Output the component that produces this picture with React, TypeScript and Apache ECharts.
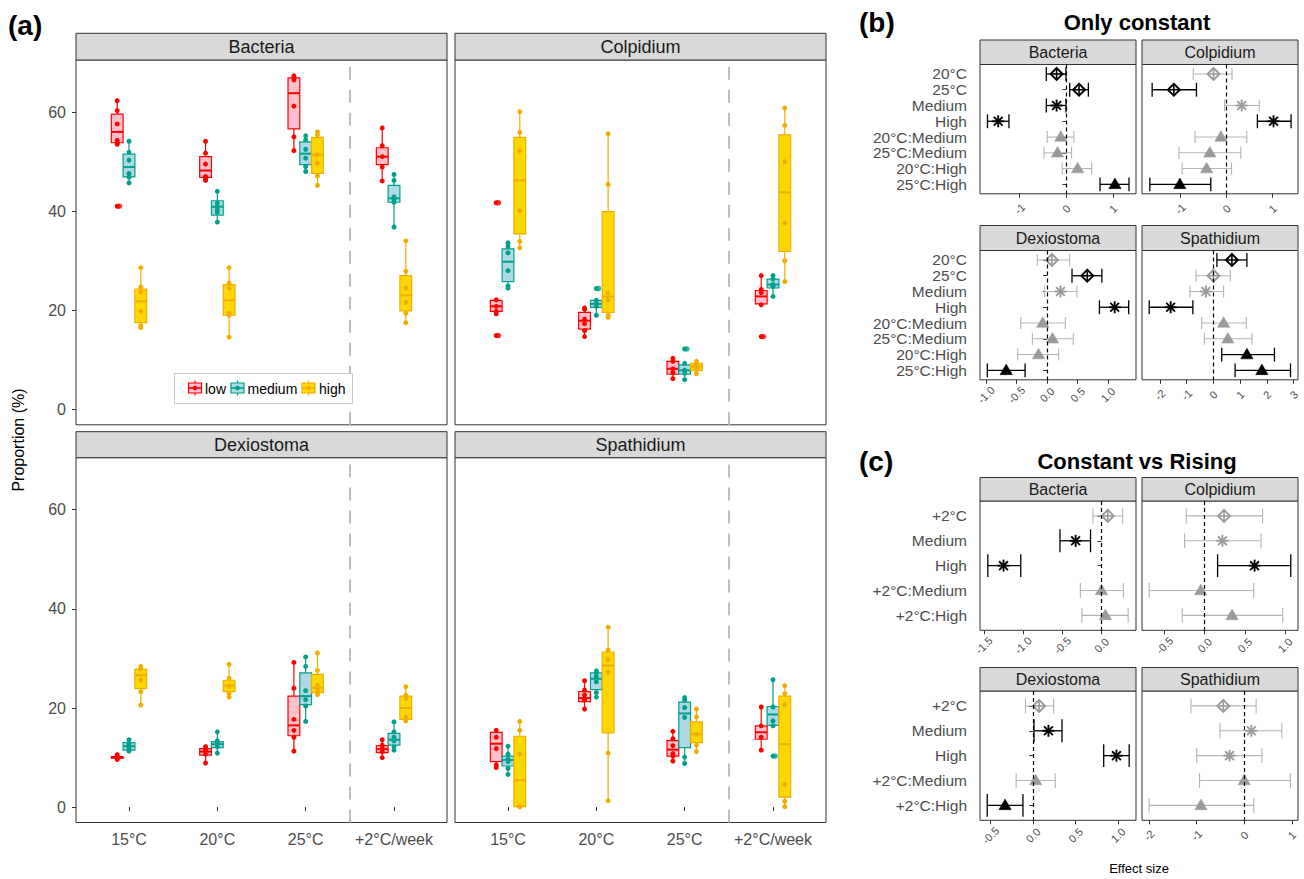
import React, { useEffect, useRef } from 'react';
import * as echarts from 'echarts';

// ---------- Panel (a) data ----------
const temps = ['15°C', '20°C', '25°C', '+2°C/week'];
const levels = ['low', 'medium', 'high'];
const species = ['Bacteria', 'Colpidium', 'Dexiostoma', 'Spathidium'];
const yTicksA = [0, 20, 40, 60];

// box stats [min, q1, median, q3, max]; outer index = level, inner = temperature
const bacteriaBoxes = [
  [[53.5, 53.8, 56.0, 59.6, 62.3], [46.2, 46.8, 48.2, 51.0, 54.1], [52.2, 56.6, 63.8, 66.9, 67.3], [46.1, 49.4, 51.0, 52.8, 56.8]],
  [[45.7, 46.9, 48.9, 51.5, 54.1], [37.8, 39.2, 40.9, 42.1, 44.0], [48.0, 49.4, 51.6, 54.0, 55.2], [36.8, 41.8, 42.6, 45.2, 47.4]],
  [[16.6, 17.5, 21.8, 24.3, 28.6], [14.6, 19.0, 22.0, 25.2, 28.6], [45.2, 47.6, 51.4, 54.9, 56.0], [17.5, 19.9, 23.0, 27.0, 34.0]],
];
const bacteriaPoints = [
  [[62.3, 60.3, 57.6, 54.3, 53.8, 53.5, 41.0], [54.1, 51.7, 49.5, 47.0, 46.5, 46.2], [67.3, 67.0, 66.5, 61.2, 55.0, 52.2], [56.8, 53.2, 51.0, 48.9, 46.1]],
  [[54.1, 51.9, 50.3, 47.6, 46.9, 45.7], [44.0, 41.6, 40.9, 40.3, 39.8, 37.8], [55.2, 54.4, 52.5, 50.7, 49.0, 48.0], [47.4, 46.2, 42.9, 42.4, 41.8, 36.8]],
  [[28.6, 24.7, 23.7, 19.8, 16.9, 16.5], [28.6, 25.5, 24.5, 19.4, 19.0, 14.6], [56.0, 55.4, 51.4, 49.7, 47.1, 45.2], [34.0, 27.9, 24.5, 21.6, 19.4, 17.5]],
];
const bacteriaOutliers = [[0, 0, 41.0]]; // [level, temperature, value]

const colpidiumBoxes = [
  [[19.3, 19.8, 20.8, 22.0, 22.1], [14.7, 16.2, 17.9, 19.6, 20.5], [6.2, 7.1, 8.2, 9.7, 10.3], [21.0, 21.3, 22.8, 24.0, 27.0]],
  [[24.5, 25.8, 29.8, 32.4, 33.6], [19.0, 20.6, 21.3, 22.0, 22.0], [6.0, 7.1, 7.9, 9.0, 9.3], [22.8, 24.5, 25.2, 26.3, 27.0]],
  [[32.6, 35.4, 46.2, 54.9, 60.1], [18.6, 19.6, 22.8, 39.9, 55.6], [7.2, 7.9, 8.7, 9.3, 9.7], [25.8, 31.9, 43.8, 55.4, 60.8]],
];
const colpidiumPoints = [
  [[41.7, 22.1, 20.8, 19.8, 19.3, 14.9], [20.5, 20.2, 18.2, 17.3, 15.9, 14.7], [10.3, 9.7, 8.2, 7.4, 6.2], [27.0, 24.2, 23.6, 21.1, 14.7]],
  [[33.6, 32.9, 31.6, 28.0, 24.9, 24.5], [24.4, 22.0, 21.3, 20.8, 19.0], [12.2, 9.3, 7.9, 7.3, 6.0], [27.0, 26.3, 25.2, 24.8, 22.8]],
  [[60.1, 55.9, 52.2, 40.1, 33.9, 32.6], [55.6, 45.4, 23.5, 22.1, 19.0, 18.6], [9.7, 9.1, 8.6, 8.0, 7.2], [60.8, 57.3, 50.0, 37.6, 30.0, 25.8]],
];
const colpidiumOutliers = [[0, 0, 41.7], [0, 0, 14.9], [1, 1, 24.4], [1, 2, 12.2], [0, 3, 14.7]];

const dexiostomaBoxes = [
  [[9.6, 9.9, 10.0, 10.2, 10.6], [8.9, 10.5, 11.2, 11.8, 12.2], [11.3, 14.4, 16.5, 22.4, 29.2], [10.0, 11.0, 11.7, 12.4, 13.6]],
  [[11.3, 11.5, 12.3, 13.0, 13.6], [10.9, 12.0, 12.7, 13.2, 15.2], [17.3, 20.7, 22.4, 27.1, 30.3], [11.5, 12.5, 13.6, 14.9, 17.2]],
  [[20.6, 23.9, 26.6, 27.8, 28.4], [22.2, 23.3, 24.5, 25.6, 28.8], [22.7, 23.1, 24.1, 26.8, 31.1], [17.2, 17.7, 20.0, 22.4, 24.3]],
];
const dexiostomaPoints = [
  [[10.6, 10.2, 10.0, 9.9, 9.6], [12.2, 11.5, 10.7, 8.9], [29.2, 24.0, 17.7, 15.5, 14.1, 11.3], [13.6, 12.5, 11.8, 11.2, 10.0]],
  [[13.6, 12.8, 12.3, 11.8, 11.3], [15.2, 13.4, 12.8, 12.2, 10.9], [30.3, 28.4, 23.5, 21.7, 20.4, 17.3], [17.2, 15.2, 14.1, 13.4, 12.2, 11.5]],
  [[28.4, 28.0, 25.6, 23.3, 20.6], [28.8, 26.0, 24.4, 22.9, 22.2], [31.1, 27.6, 24.6, 23.9, 23.2, 22.7], [24.3, 22.6, 21.9, 18.2, 17.4]],
];
const dexiostomaOutliers: number[][] = [];

const spathidiumBoxes = [
  [[8.0, 9.2, 12.8, 15.1, 15.5], [19.8, 21.3, 22.0, 23.3, 25.5], [9.3, 10.3, 11.6, 13.4, 15.3], [11.5, 13.7, 15.1, 16.4, 20.2]],
  [[6.6, 8.3, 9.5, 10.3, 12.3], [22.2, 23.7, 25.9, 27.1, 27.5], [8.8, 12.0, 18.9, 21.2, 22.1], [16.4, 16.5, 18.7, 20.3, 25.7]],
  [[0.1, 0.1, 5.4, 14.3, 17.3], [1.3, 15.0, 28.6, 31.3, 36.3], [11.2, 13.0, 14.7, 17.2, 19.8], [0.1, 2.0, 12.7, 22.4, 24.5]],
];
const spathidiumPoints = [
  [[15.5, 14.1, 11.8, 8.5, 8.0], [25.5, 23.6, 22.6, 21.6, 19.8], [15.3, 13.8, 12.4, 10.8, 10.3, 9.3], [20.2, 16.4, 14.1, 11.5]],
  [[12.3, 10.7, 9.7, 9.2, 7.8, 6.6], [27.5, 27.1, 26.3, 25.3, 23.1, 22.2], [22.1, 21.6, 20.1, 18.1, 10.1, 8.8], [25.7, 20.2, 17.4, 16.4, 10.3]],
  [[17.3, 15.5, 10.7, 0.1, 0.1], [36.3, 31.7, 29.8, 27.2, 10.9, 1.3], [19.8, 18.2, 14.7, 12.5, 11.2], [24.5, 22.9, 20.7, 4.6, 1.2, 0.1]],
];
const spathidiumOutliers = [[1, 3, 10.3]];

// ---------- Panels (b) and (c) data: [estimate, lower, upper, significant] ----------
const constRows = ['20°C', '25°C', 'Medium', 'High', '20°C:Medium', '25°C:Medium', '20°C:High', '25°C:High'];
const constShapes = [0, 0, 1, 1, 2, 2, 2, 2];
const constBacteria = [[-0.21, -0.43, -0.01, 1], [0.27, 0.07, 0.47, 1], [-0.21, -0.43, -0.01, 1], [-1.46, -1.69, -1.23, 1], [-0.12, -0.41, 0.16, 0], [-0.19, -0.48, 0.11, 0], [0.24, -0.09, 0.54, 0], [1.04, 0.72, 1.34, 1]];
const constColpidium = [[-0.28, -0.72, 0.12, 0], [-1.14, -1.61, -0.65, 1], [0.33, -0.04, 0.71, 0], [1.02, 0.67, 1.40, 1], [-0.12, -0.68, 0.44, 0], [-0.36, -1.03, 0.31, 0], [-0.43, -0.96, 0.11, 0], [-1.01, -1.66, -0.34, 1]];
const constDexiostoma = [[0.08, -0.16, 0.37, 0], [0.66, 0.41, 0.90, 1], [0.22, -0.04, 0.49, 0], [1.11, 0.86, 1.34, 1], [-0.07, -0.43, 0.30, 0], [0.09, -0.24, 0.43, 0], [-0.14, -0.48, 0.19, 0], [-0.67, -0.98, -0.36, 1]];
const constSpathidium = [[0.69, 0.13, 1.25, 1], [0.0, -0.65, 0.63, 0], [-0.28, -0.88, 0.38, 0], [-1.6, -2.4, -0.77, 1], [0.38, -0.44, 1.23, 0], [0.54, -0.34, 1.44, 0], [1.25, 0.31, 2.28, 1], [1.81, 0.81, 2.88, 1]];

const risingRows = ['+2°C', 'Medium', 'High', '+2°C:Medium', '+2°C:High'];
const risingShapes = [0, 1, 1, 2, 2];
const risingBacteria = [[0.08, -0.11, 0.27, 0], [-0.33, -0.53, -0.14, 1], [-1.25, -1.45, -1.03, 1], [0.0, -0.27, 0.28, 0], [0.05, -0.25, 0.34, 0]];
const risingColpidium = [[0.24, -0.23, 0.72, 0], [0.22, -0.25, 0.70, 0], [0.62, 0.16, 1.07, 1], [-0.05, -0.69, 0.61, 0], [0.34, -0.28, 0.97, 0]];
const risingDexiostoma = [[0.07, -0.09, 0.24, 0], [0.18, 0.01, 0.34, 1], [0.98, 0.83, 1.13, 1], [0.03, -0.20, 0.26, 0], [-0.33, -0.54, -0.12, 1]];
const risingSpathidium = [[-0.44, -1.12, 0.25, 0], [0.15, -0.51, 0.79, 0], [-0.31, -1.0, 0.37, 0], [0.0, -0.94, 0.97, 0], [-0.91, -2.0, 0.2, 0]];

// effect-size axis ranges and tick labels per facet (b: B,C,D,S then c: B,C,D,S)
const forestRanges = [[-1.85, 1.49], [-1.83, 1.55], [-1.1, 1.46], [-2.67, 3.16], [-1.55, 0.44], [-0.78, 1.16], [-0.625, 1.21], [-2.15, 1.13]];
const forestTicks = [[-1, 0, 1], [-1, 0, 1], [-1, -0.5, 0, 0.5, 1], [-2, -1, 0, 1, 2, 3], [-1.5, -1, -0.5, 0], [-0.5, 0, 0.5, 1], [-0.5, 0, 0.5, 1], [-2, -1, 0, 1]];
const forestDecimals = [0, 0, 1, 0, 1, 1, 1, 0];

// ---------- styling ----------
const FONT = '"Liberation Sans", Arial, Helvetica, sans-serif';
const lineCols = ['#FF0000', '#00A08A', '#F2AD00'];
const fillCols = ['#FFC0CB', '#ADD8E6', '#FFD700'];
const BOX_W = 0.4 / 3;
const OFFS = [-0.4 / 3, 0, 0.4 / 3];

function boxRender(l: number) {
  return (params: any, api: any) => {
    const x = api.value(0);
    const pMin = api.coord([x, api.value(1)]);
    const pQ1 = api.coord([x, api.value(2)]);
    const pMd = api.coord([x, api.value(3)]);
    const pQ3 = api.coord([x, api.value(4)]);
    const pMax = api.coord([x, api.value(5)]);
    const half = Math.abs(api.size([BOX_W, 0])[0]) / 2;
    const cx = pMd[0];
    const col = lineCols[l];
    return {
      type: 'group',
      children: [
        { type: 'line', shape: { x1: cx, y1: pMax[1], x2: cx, y2: pQ3[1] }, style: { stroke: col, lineWidth: 1.2 } },
        { type: 'line', shape: { x1: cx, y1: pQ1[1], x2: cx, y2: pMin[1] }, style: { stroke: col, lineWidth: 1.2 } },
        { type: 'rect', shape: { x: cx - half, y: pQ3[1], width: 2 * half, height: Math.max(pQ1[1] - pQ3[1], 0.5) }, style: { fill: fillCols[l], stroke: col, lineWidth: 1.2 } },
        { type: 'line', shape: { x1: cx - half, y1: pMd[1], x2: cx + half, y2: pMd[1] }, style: { stroke: col, lineWidth: 2 } },
      ],
    };
  };
}

function forestRender(capSig: number, capNs: number) {
  return (params: any, api: any) => {
    const est = api.value(0);
    const row = api.value(1);
    const lo = api.value(2);
    const hi = api.value(3);
    const sig = api.value(4);
    const shape = api.value(5);
    const c = api.coord([est, row]);
    const pl = api.coord([lo, row]);
    const ph = api.coord([hi, row]);
    const unitH = Math.abs(api.size([0, 1])[1]);
    const cap = unitH * (sig ? capSig : capNs);
    const barCol = sig ? '#000000' : '#B5B5B5';
    const mk = sig ? '#000000' : '#9A9A9A';
    const x = c[0];
    const y = c[1];
    const lw = sig ? 1.3 : 1.1;
    const children: any[] = [
      { type: 'line', shape: { x1: pl[0], y1: y, x2: ph[0], y2: y }, style: { stroke: barCol, lineWidth: lw } },
      { type: 'line', shape: { x1: pl[0], y1: y - cap, x2: pl[0], y2: y + cap }, style: { stroke: barCol, lineWidth: lw } },
      { type: 'line', shape: { x1: ph[0], y1: y - cap, x2: ph[0], y2: y + cap }, style: { stroke: barCol, lineWidth: lw } },
    ];
    const s = 6;
    if (shape === 0) {
      children.push({ type: 'polygon', shape: { points: [[x, y - s], [x + s, y], [x, y + s], [x - s, y]] }, style: { fill: '#ffffff', stroke: mk, lineWidth: 1.9 } });
      children.push({ type: 'line', shape: { x1: x, y1: y - s, x2: x, y2: y + s }, style: { stroke: mk, lineWidth: 1.6 } });
      children.push({ type: 'line', shape: { x1: x - s, y1: y, x2: x + s, y2: y }, style: { stroke: mk, lineWidth: 1.6 } });
    } else if (shape === 1) {
      const d = 4.4;
      children.push({ type: 'line', shape: { x1: x, y1: y - s, x2: x, y2: y + s }, style: { stroke: mk, lineWidth: 1.9 } });
      children.push({ type: 'line', shape: { x1: x - s, y1: y, x2: x + s, y2: y }, style: { stroke: mk, lineWidth: 1.9 } });
      children.push({ type: 'line', shape: { x1: x - d, y1: y - d, x2: x + d, y2: y + d }, style: { stroke: mk, lineWidth: 1.9 } });
      children.push({ type: 'line', shape: { x1: x - d, y1: y + d, x2: x + d, y2: y - d }, style: { stroke: mk, lineWidth: 1.9 } });
    } else {
      children.push({ type: 'polygon', shape: { points: [[x, y - 6.3], [x + 6.2, y + 4.3], [x - 6.2, y + 4.3]] }, style: { fill: mk, stroke: mk, lineWidth: 0.5 } });
    }
    return { type: 'group', children };
  };
}

// row labels of the forest plots, placed through the axis scale (left of the panel)
function rowLabelRender(rows: string[], xMin: number) {
  return (params: any, api: any) => {
    const r = api.value(1);
    const p = api.coord([xMin, r]);
    return {
      type: 'text',
      x: p[0] - 13,
      y: p[1],
      style: { text: rows[Math.round(r) - 1], fill: '#4D4D4D', font: `15.5px ${FONT}`, align: 'right', verticalAlign: 'middle' },
    };
  };
}

function txt(text: string, x: number, y: number, font: string, align = 'center', fill = '#1A1A1A', rotation = 0, z = 10) {
  return {
    type: 'text', x, y, rotation, z, silent: true,
    style: { text, x: 0, y: 0, font, fill, align, verticalAlign: 'middle', textAlign: align, textVerticalAlign: 'middle' },
  };
}

function strip(label: string, x: number, y: number, w: number, h: number, fontSize: number) {
  return [
    { type: 'rect', z: 5, silent: true, shape: { x, y, width: w, height: h }, style: { fill: '#D9D9D9', stroke: '#333333', lineWidth: 1 } },
    txt(label, x + w / 2, y + h / 2 + 0.5, `${fontSize}px ${FONT}`, 'center', '#1A1A1A', 0, 6),
  ];
}

function buildOption() {
  const grids: any[] = [];
  const xAxes: any[] = [];
  const yAxes: any[] = [];
  const series: any[] = [];
  const graphics: any[] = [];

  // ---------------- Panel (a) ----------------
  const aLefts = [76, 455];
  const aTops = [60, 457.7];
  const aW = 371;
  const aH = 364.8;
  const stripTopsA = [33.3, 431.7];
  const aData = [
    [bacteriaBoxes, bacteriaPoints, bacteriaOutliers],
    [colpidiumBoxes, colpidiumPoints, colpidiumOutliers],
    [dexiostomaBoxes, dexiostomaPoints, dexiostomaOutliers],
    [spathidiumBoxes, spathidiumPoints, spathidiumOutliers],
  ] as any[];

  species.forEach((sp, i) => {
    const row = i >> 1;
    const col = i & 1;
    grids.push({ left: aLefts[col], top: aTops[row], width: aW, height: aH, show: true, borderColor: '#333333', borderWidth: 1, backgroundColor: '#ffffff', containLabel: false, outerBoundsMode: 'none' });
    xAxes.push({
      type: 'value', gridIndex: i, min: 0.4, max: 4.6,
      axisLine: { show: false }, splitLine: { show: false },
      axisTick: { show: row === 1, customValues: [1, 2, 3, 4], length: 4, lineStyle: { color: '#333333' } },
      axisLabel: { show: row === 1, customValues: [1, 2, 3, 4], showMinLabel: true, showMaxLabel: true, hideOverlap: false, formatter: (v: number) => temps[Math.round(v) - 1] ?? '', color: '#4D4D4D', fontSize: 16, fontFamily: FONT, margin: 9 },
    });
    yAxes.push({
      type: 'value', gridIndex: i, min: -3.1, max: 70.5,
      axisLine: { show: false }, splitLine: { show: false },
      axisTick: { show: col === 0, customValues: yTicksA, length: 4, lineStyle: { color: '#333333' } },
      axisLabel: { show: col === 0, customValues: yTicksA, showMinLabel: true, showMaxLabel: true, color: '#4D4D4D', fontSize: 16, fontFamily: FONT, margin: 10 },
    });
    const [boxes, points, outliers] = aData[i];
    levels.forEach((lv, l) => {
      series.push({
        type: 'custom', name: lv, xAxisIndex: i, yAxisIndex: i, silent: true, z: 2,
        renderItem: boxRender(l),
        encode: { x: 0, y: [1, 2, 3, 4, 5] },
        data: temps.map((_, t) => [t + 1 + OFFS[l], ...boxes[l][t]]),
      });
      const pts: number[][] = [];
      points[l].forEach((vals: number[], t: number) => vals.forEach((v) => pts.push([t + 1 + OFFS[l], v])));
      const s: any = {
        type: 'scatter', xAxisIndex: i, yAxisIndex: i, silent: true, z: 4,
        symbol: 'circle', symbolSize: 5, itemStyle: { color: lineCols[l], opacity: 1, borderWidth: 0 },
        data: pts,
      };
      if (l === 0) {
        s.markLine = {
          silent: true, symbol: ['none', 'none'], label: { show: false }, z: 1,
          lineStyle: { color: '#BEBEBE', width: 2, type: [13, 10] },
          data: [{ xAxis: 3.5 }],
        };
      }
      series.push(s);
    });
    if (outliers.length) {
      series.push({
        type: 'scatter', xAxisIndex: i, yAxisIndex: i, silent: true, z: 4,
        symbol: 'circle', symbolSize: 5.5,
        itemStyle: { color: (p: any) => lineCols[p.data[2]], borderWidth: 0 },
        data: outliers.map((o: number[]) => [o[1] + 1 + OFFS[o[0]] + 0.025, o[2], o[0]]),
      });
    }
    graphics.push(...strip(sp, aLefts[col], stripTopsA[row], aW, aTops[row] - stripTopsA[row], 18));
  });

  // legend inside Bacteria panel
  graphics.push({ type: 'rect', z: 50, silent: true, shape: { x: 174.5, y: 373.5, width: 178, height: 30 }, style: { fill: '#ffffff', stroke: '#C8C8C8', lineWidth: 1 } });
  const legGlyphX = [195, 237.5, 308.5];
  const legTextX = [205, 247.5, 319];
  levels.forEach((lv, l) => {
    const gx = legGlyphX[l];
    const gy = 388;
    graphics.push({ type: 'line', z: 51, silent: true, shape: { x1: gx, y1: gy - 7.5, x2: gx, y2: gy + 7.5 }, style: { stroke: lineCols[l], lineWidth: 1.2 } });
    graphics.push({ type: 'rect', z: 52, silent: true, shape: { x: gx - 6.5, y: gy - 5, width: 13, height: 10 }, style: { fill: fillCols[l], stroke: lineCols[l], lineWidth: 1.2 } });
    graphics.push({ type: 'line', z: 53, silent: true, shape: { x1: gx - 6.5, y1: gy, x2: gx + 6.5, y2: gy }, style: { stroke: lineCols[l], lineWidth: 1.6 } });
    graphics.push({ type: 'circle', z: 54, silent: true, shape: { cx: gx, cy: gy, r: 2.3 }, style: { fill: lineCols[l] } });
    graphics.push(txt(lv, legTextX[l], gy + 0.5, `14px ${FONT}`, 'left', '#000000', 0, 55));
  });

  // ---------------- Panels (b) and (c) ----------------
  const fLefts = [980, 1142];
  const fW = 156;
  const fTops = [64.5, 250.5, 501, 691];
  const fH = 129.3;
  const fStripTops = [40, 225.5, 477.5, 667.5];
  const forestSets = [
    [constBacteria, constColpidium, constDexiostoma, constSpathidium],
    [risingBacteria, risingColpidium, risingDexiostoma, risingSpathidium],
  ];
  const rowSets = [constRows, risingRows];
  const shapeSets = [constShapes, risingShapes];
  const capSets = [[0.44, 0.38], [0.46, 0.3]];

  for (let p = 0; p < 8; p++) {
    const gi = 4 + p;
    const group = p >> 2;
    const within = p & 3;
    const row = within >> 1;
    const col = within & 1;
    const top = fTops[group * 2 + row];
    const left = fLefts[col];
    const rows = rowSets[group];
    const n = rows.length;
    const rowIdx = rows.map((_, k) => k + 1);
    grids.push({ left, top, width: fW, height: fH, show: true, borderColor: '#333333', borderWidth: 1, backgroundColor: '#ffffff', containLabel: false, outerBoundsMode: 'none' });
    const dec = forestDecimals[p];
    xAxes.push({
      type: 'value', gridIndex: gi, min: forestRanges[p][0], max: forestRanges[p][1],
      axisLine: { show: false }, splitLine: { show: false },
      axisTick: { show: true, customValues: forestTicks[p], length: 4, lineStyle: { color: '#333333' } },
      axisLabel: {
        show: true, customValues: forestTicks[p], rotate: 45, align: 'center', verticalAlign: 'middle',
        showMinLabel: true, showMaxLabel: true, hideOverlap: false,
        formatter: (v: number) => Number(v).toFixed(dec), color: '#4D4D4D', fontSize: 11, fontFamily: FONT, margin: 15,
      },
    });
    yAxes.push({
      type: 'value', gridIndex: gi, min: 0.4, max: n + 0.6, inverse: true,
      axisLine: { show: false }, splitLine: { show: false },
      axisTick: { show: col === 0, customValues: rowIdx, length: 4, lineStyle: { color: '#333333' } },
      axisLabel: { show: false },
    });
    const d = forestSets[group][within];
    const shapes = shapeSets[group];
    series.push({
      type: 'custom', xAxisIndex: gi, yAxisIndex: gi, silent: true, z: 3,
      renderItem: forestRender(capSets[group][0], capSets[group][1]),
      encode: { x: [0, 2, 3], y: 1 },
      data: d.map((r, k) => [r[0], k + 1, r[1], r[2], r[3], shapes[k]]),
      markLine: {
        silent: true, symbol: ['none', 'none'], label: { show: false },
        lineStyle: { color: '#000000', width: 1.2, type: [4, 3] },
        data: [{ xAxis: 0 }],
      },
    });
    if (col === 0) {
      series.push({
        type: 'custom', xAxisIndex: gi, yAxisIndex: gi, silent: true, z: 3, clip: false,
        renderItem: rowLabelRender(rows, forestRanges[p][0]),
        encode: { x: 0, y: 1 },
        data: rowIdx.map((r) => [forestRanges[p][0], r]),
      });
    }
    graphics.push(...strip(species[within], left, fStripTops[group * 2 + row], fW, top - fStripTops[group * 2 + row], 16));
  }

  // ---------------- titles & labels ----------------
  graphics.push(txt('(a)', 8, 25, `bold 28px ${FONT}`, 'left', '#000000'));
  graphics.push(txt('(b)', 859, 22, `bold 28px ${FONT}`, 'left', '#000000'));
  graphics.push(txt('(c)', 859, 461, `bold 28px ${FONT}`, 'left', '#000000'));
  graphics.push(txt('Only constant', 1137, 22, `bold 22px ${FONT}`, 'center', '#000000'));
  graphics.push(txt('Constant vs Rising', 1137, 461.5, `bold 22px ${FONT}`, 'center', '#000000'));
  graphics.push(txt('Proportion (%)', 18, 440, `16px ${FONT}`, 'center', '#000000', Math.PI / 2));
  graphics.push(txt('Effect size', 1139, 868, `13px ${FONT}`, 'center', '#000000'));

  return {
    animation: false,
    backgroundColor: '#ffffff',
    textStyle: { fontFamily: FONT },
    grid: grids,
    xAxis: xAxes,
    yAxis: yAxes,
    series,
    graphic: { elements: graphics },
  };
}

export default function App() {
  const ref = useRef<HTMLDivElement>(null);
  useEffect(() => {
    if (!ref.current) return;
    const chart = echarts.init(ref.current, null, { renderer: 'svg' });
    chart.setOption(buildOption() as any);
    return () => chart.dispose();
  }, []);
  return <div ref={ref} style={{ position: 'absolute', left: 0, top: 0, width: 1304, height: 879, background: '#ffffff' }} />;
}
